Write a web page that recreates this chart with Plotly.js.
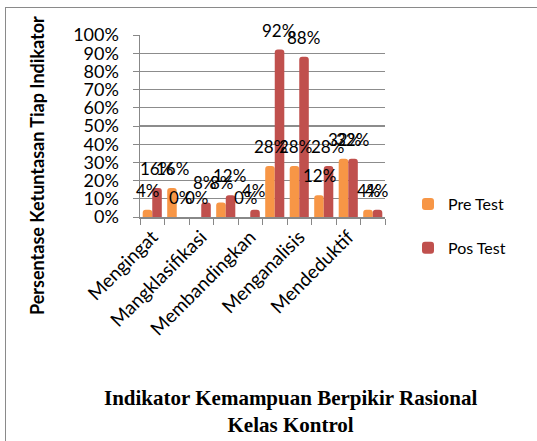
<!DOCTYPE html>
<html>
<head>
<meta charset="utf-8">
<script src="https://cdn.plot.ly/plotly-3.0.1.min.js"></script>
<style>
html,body{margin:0;padding:0;background:#fff;overflow:hidden;}
#wrap{position:relative;width:537px;height:441px;}
#chart{width:537px;height:441px;}
#frame{position:absolute;left:5px;top:7px;width:545px;height:445px;border:1.5px solid #8a8a8a;pointer-events:none;}
</style>
</head>
<body>
<div id="wrap"><div id="chart"></div><div id="frame"></div></div>
<script>
// Categories (only every other one is labelled on the axis in the reference)
const categories = ['Mengingat','Indikator 2','Mangklasifikasi','Indikator 4','Membandingkan','Indikator 6','Menganalisis','Indikator 8','Mendeduktif','Indikator 10'];
const tickLabels = ['Mengingat','','Mangklasifikasi','','Membandingkan','','Menganalisis','','Mendeduktif',''];
const preTest = [4,16,0,8,0,28,28,12,32,4];
const posTest = [16,0,8,12,4,92,88,28,32,4];
const seriesNames = ['Pre Test','Pos Test'];
const yTicks = [0,10,20,30,40,50,60,70,80,90,100];

const font = 'Lato, "Open Sans", sans-serif';
const labelFont = {family: font, size: 17, color: '#000'};

const traces = [
  {type:'bar', name: seriesNames[0], x: categories, y: preTest,
   marker:{color:'#F79646'}, legendgroup:'a', hoverinfo:'none'},
  {type:'bar', name: seriesNames[1], x: categories, y: posTest,
   marker:{color:'#C0504D'}, legendgroup:'b', hoverinfo:'none'}
];

// data labels above each bar, placed in data coordinates
const dataLabels = [];
[[preTest, -4], [posTest, 4]].forEach(([vals, dx]) => {
  vals.forEach((v, i) => {
    dataLabels.push({x: categories[i], y: v, xref: 'x', yref: 'y', text: v + '%',
      showarrow: false, xanchor: 'center', yanchor: 'bottom', xshift: dx, yshift: 7,
      font: labelFont});
  });
});

const L = 140, R = 385, T = 35, B = 217;
const W = R - L, H = B - T;
const px = v => (v - L) / W;
const py = v => (B - v) / H;

const layout = {
  width: 537, height: 441,
  margin: {l: L, r: 537 - R, t: T, b: 441 - B, pad: 0},
  paper_bgcolor: '#fff', plot_bgcolor: '#fff',
  barmode: 'group', bargap: 0.22, bargroupgap: 0,
  barcornerradius: 3,
  showlegend: true,
  legend: {x: px(408), y: py(187), xanchor: 'left', yanchor: 'top',
           font: {family: font, size: 16, color: '#000'},
           tracegroupgap: 20, traceorder: 'grouped', bgcolor: 'rgba(0,0,0,0)'},
  xaxis: {type: 'category', tickvals: categories, ticktext: tickLabels,
          tickson: 'boundaries', ticks: 'outside', ticklen: 6, tickcolor: '#888',
          tickangle: -45, showgrid: false, showline: true, linecolor: '#888', linewidth: 1.5,
          tickfont: {family: font, size: 19, color: '#000'}, zeroline: false,
          range: [-0.5, 9.5], fixedrange: true},
  yaxis: {range: [0, 100], tickvals: yTicks, ticktext: yTicks.map(v => v + '%'),
          ticks: 'outside', ticklen: 6, tickcolor: '#888', ticklabelstandoff: 10,
          showgrid: true, gridcolor: '#8c8c8c', gridwidth: 1.3,
          showline: true, linecolor: '#888', linewidth: 1.5, zeroline: false,
          tickfont: {family: font, size: 18, color: '#000'}, fixedrange: true},
  annotations: dataLabels.concat([
    {text: '<b>Persentase Ketuntasan Tiap Indikator</b>', xref: 'paper', yref: 'paper',
     x: px(37), y: py(166), xanchor: 'center', yanchor: 'middle', textangle: -90, showarrow: false,
     font: {family: font, size: 18, color: '#000'}},
    {text: '<b>Indikator Kemampuan Berpikir Rasional</b><br><b>Kelas Kontrol</b>', xref: 'paper', yref: 'paper',
     x: px(290), y: py(412), xanchor: 'center', yanchor: 'middle', showarrow: false, align: 'center',
     font: {family: '"Liberation Serif", "Times New Roman", serif', size: 21, color: '#000'}}
  ])
};

Plotly.newPlot('chart', traces, layout, {displayModeBar: false, staticPlot: true});
</script>
</body>
</html>
